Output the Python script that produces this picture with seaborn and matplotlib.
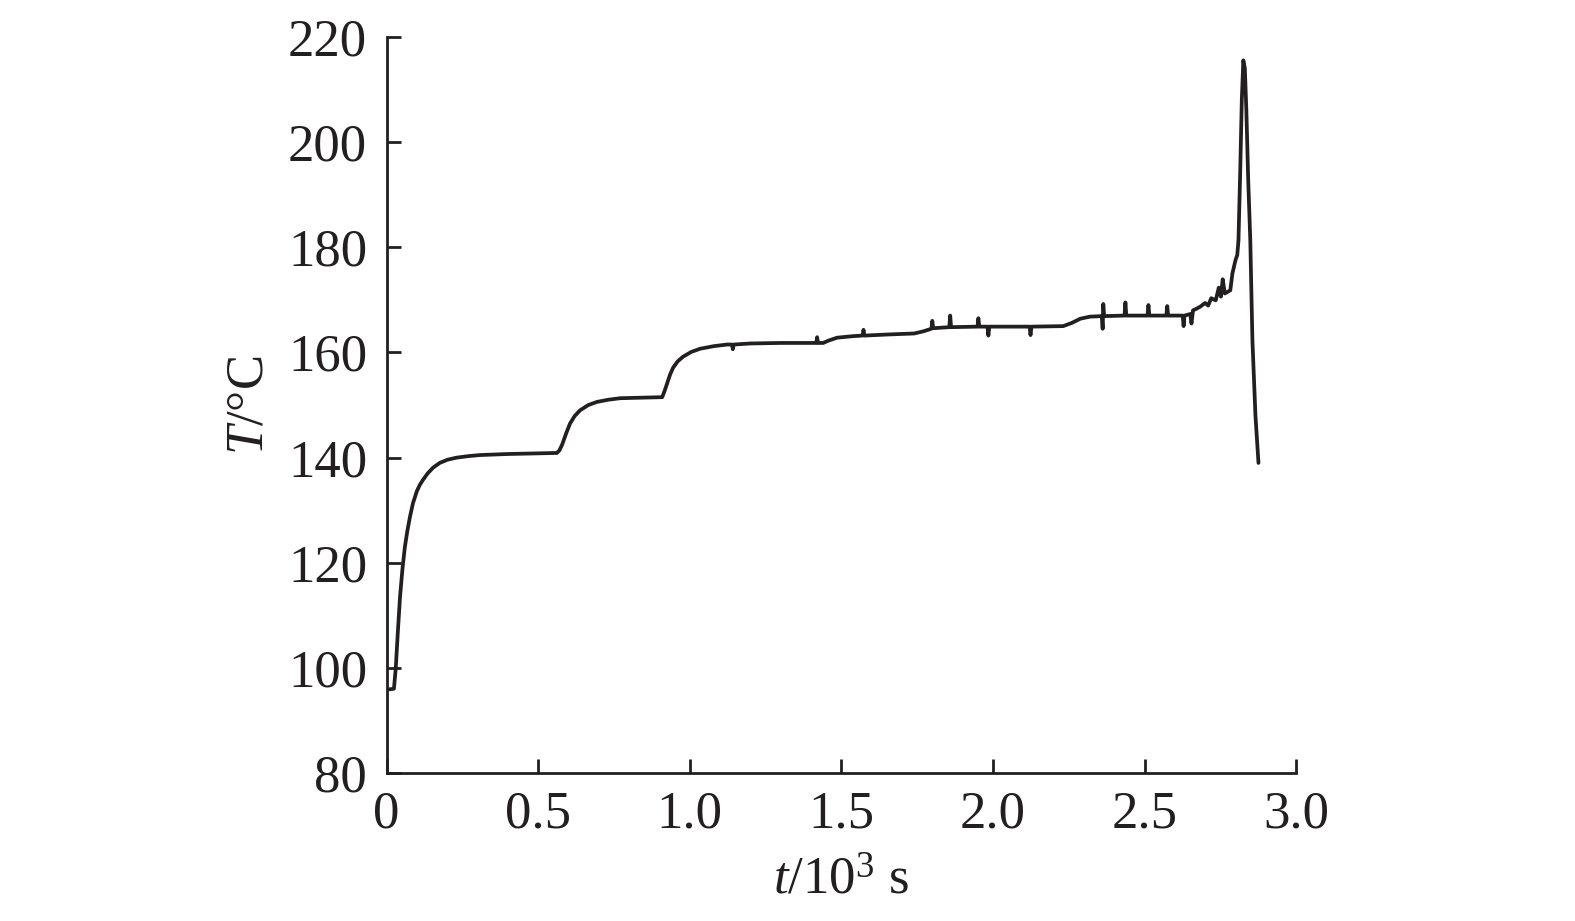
import pandas as pd
import matplotlib
matplotlib.use("Agg")
import matplotlib.pyplot as plt
import seaborn as sns

# values (time in 10^3 s, temperature in deg C)
# the short spikes on the plateaus are the small noise marks seen in the figure
time_ks = [0.000, 0.012, 0.024, 0.030, 0.037, 0.044, 0.052, 0.060, 0.068, 0.077,
           0.087, 0.100, 0.110, 0.120, 0.135, 0.153, 0.175, 0.200, 0.230, 0.270,
           0.308, 0.400, 0.480, 0.562, 0.570, 0.579, 0.592, 0.605, 0.620, 0.638,
           0.665, 0.694, 0.730, 0.770, 0.840, 0.909, 0.917, 0.925, 0.935, 0.945,
           0.960, 0.978, 1.005, 1.034, 1.080, 1.123, 1.139, 1.142, 1.145, 1.200,
           1.298, 1.417, 1.420, 1.423, 1.440, 1.460, 1.486, 1.540, 1.570, 1.573,
           1.576, 1.650, 1.740, 1.770, 1.797, 1.800, 1.803, 1.856, 1.859, 1.862,
           1.949, 1.952, 1.955, 1.982, 1.985, 1.988, 2.121, 2.124, 2.127, 2.232,
           2.260, 2.288, 2.320, 2.359, 2.362, 2.364, 2.367, 2.434, 2.437, 2.440,
           2.510, 2.513, 2.516, 2.572, 2.575, 2.578, 2.626, 2.629, 2.632, 2.651,
           2.655, 2.660, 2.668, 2.684, 2.700, 2.710, 2.720, 2.735, 2.745, 2.752,
           2.758, 2.765, 2.783, 2.790, 2.800, 2.806, 2.810, 2.816, 2.821, 2.826,
           2.831, 2.836, 2.842, 2.849, 2.853, 2.856, 2.866, 2.876]
temp_c = [96.0, 96.0, 96.1, 100.0, 107.0, 113.5, 118.8, 123.0, 126.0, 128.8,
          131.4, 133.7, 134.9, 135.8, 137.0, 138.1, 139.0, 139.6, 140.0, 140.3,
          140.5, 140.7, 140.8, 140.9, 141.4, 142.5, 144.6, 146.5, 147.9, 149.0,
          150.0, 150.6, 151.0, 151.3, 151.4, 151.5, 152.7, 154.1, 155.8, 157.1,
          158.3, 159.2, 160.1, 160.7, 161.2, 161.5, 161.5, 160.6, 161.5, 161.7,
          161.8, 161.8, 162.9, 161.8, 161.8, 162.3, 162.8, 163.1, 163.2, 164.3,
          163.2, 163.4, 163.6, 164.0, 164.5, 166.0, 164.6, 164.8, 167.0, 164.8,
          164.9, 166.5, 164.9, 164.9, 163.2, 164.9, 164.9, 163.3, 164.9, 165.0,
          165.6, 166.4, 166.8, 166.9, 164.5, 169.2, 166.9, 167.0, 169.5, 167.0,
          167.0, 169.0, 167.0, 167.0, 168.8, 167.0, 167.0, 165.0, 167.0, 167.3,
          165.5, 168.0, 168.2, 168.7, 169.4, 168.9, 170.3, 169.9, 172.3, 170.6,
          173.9, 171.2, 171.8, 175.0, 177.5, 178.5, 181.3, 195.0, 208.0, 215.5,
          214.0, 206.0, 193.0, 181.3, 170.0, 162.3, 148.0, 139.0]

x_ticks = [0, 0.5, 1.0, 1.5, 2.0, 2.5, 3.0]
x_tick_labels = ["0", "0.5", "1.0", "1.5", "2.0", "2.5", "3.0"]
y_ticks = [80, 100, 120, 140, 160, 180, 200, 220]

df = pd.DataFrame({"t": time_ks, "T": temp_c})

sns.set_style("ticks")
plt.rcParams["font.family"] = ["Liberation Serif", "DejaVu Serif"]
plt.rcParams["mathtext.fontset"] = "custom"
plt.rcParams["mathtext.rm"] = "Liberation Serif"
plt.rcParams["mathtext.it"] = "Liberation Serif:italic"

ink = "#231f20"

fig = plt.figure(figsize=(15.75, 9.21), dpi=100)
ax = fig.add_axes([0.2455, 0.1602, 0.5774, 0.8000])

sns.lineplot(data=df, x="t", y="T", ax=ax, color=ink, linewidth=2.7,
             sort=False, estimator=None)

ax.set_xlim(0, 3.0)
ax.set_ylim(80, 220)
ax.set_xticks(x_ticks)
ax.set_xticklabels(x_tick_labels)
ax.set_yticks(y_ticks)

for side in ["top", "right"]:
    ax.spines[side].set_visible(False)
for side in ["left", "bottom"]:
    ax.spines[side].set_linewidth(2.0)
    ax.spines[side].set_color(ink)

ax.tick_params(direction="in", length=10, width=2.0, colors=ink,
               labelsize=38, labelcolor=ink)
ax.tick_params(axis="x", pad=12)
ax.tick_params(axis="y", pad=14)

ax.set_xlabel(r"$t$/10$^3$ s", fontsize=38, color=ink)
ax.set_ylabel(r"$T$/°C", fontsize=38, color=ink)
ax.xaxis.set_label_coords(0.5, -0.113)
ax.yaxis.set_label_coords(-0.124, 0.5)

fig.savefig("out.png", dpi=100)
